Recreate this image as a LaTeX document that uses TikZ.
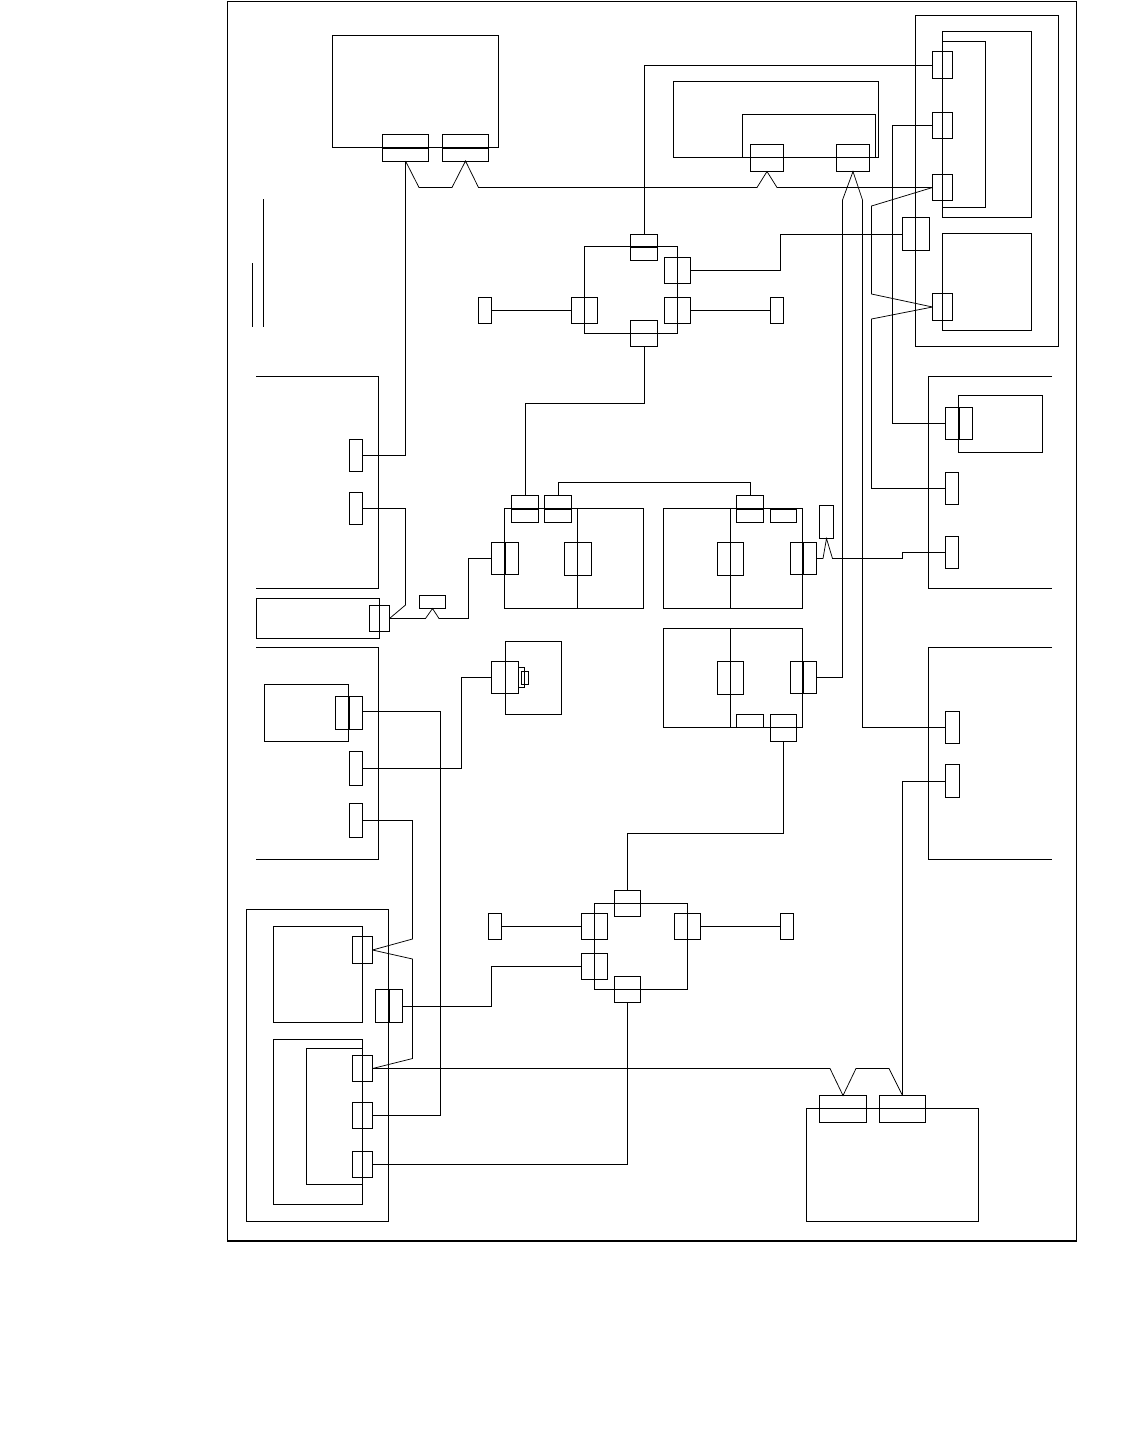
\documentclass[tikz,border=0pt]{standalone}
\usetikzlibrary{calc}
\tikzset{
  bx/.style={draw=black,line width=0.75pt,inner sep=0pt,outer sep=0pt,fill=none},
  wire/.style={draw=black,line width=0.75pt,line join=miter},
  splitbar/.style={draw=black,line width=1.5pt},
  framebar/.style={draw=black,line width=1.5pt}
}
\newcommand\bx[5]{%
  \pgfmathsetmacro\bxw{#4-#2}\pgfmathsetmacro\bxh{#5-#3}%
  \pgfmathsetmacro\bxx{(#2+#4)/2}\pgfmathsetmacro\bxy{(#3+#5)/2}%
  \node[bx,minimum width=\bxw pt,minimum height=\bxh pt] (#1) at (\bxx,\bxy) {};}
\newcommand\myhbar[1]{\draw[splitbar] (#1.west)--(#1.east);}
\newcommand\myvbar[1]{\draw[splitbar] (#1.north)--(#1.south);}
\begin{document}
\begin{tikzpicture}[x=1pt,y=-1pt]
\useasboundingbox (0,0) rectangle (1134,1443);
% frame
\bx{frame}{227.5}{1}{1076.5}{1241}
\draw[framebar] (frame.north east)--(frame.south east)--(frame.south west);
% top-left unit
\bx{tla}{332.5}{35.5}{498.5}{147.5}
\bx{tlp}{382.5}{134.5}{428.5}{161}
\bx{tlq}{442.5}{134.5}{488.5}{161}
\myhbar{tlp}\myhbar{tlq}
% top centre
\bx{tc}{673.5}{81.5}{878.5}{157.5}
\bx{tci}{742.5}{114.5}{875.5}{157.5}
\bx{tcp}{750.5}{144.5}{783.5}{171.5}
\bx{tcq}{836.5}{144.5}{869.5}{171.5}
% top-right group
\bx{rg}{915.5}{15.5}{1058.5}{346.5}
\bx{rga}{942.5}{31.5}{1031.5}{217.5}
\bx{rgai}{942.5}{41.5}{985.5}{207.5}
\bx{rgb}{942.5}{233.5}{1031.5}{330.5}
\bx{rp1}{932.5}{51.5}{952.5}{78.5}
\bx{rp2}{932.5}{112.5}{952.5}{138.5}
\bx{rp3}{932.5}{174.5}{952.5}{200.5}
\bx{rp4}{932.5}{293.5}{952.5}{320.5}
\bx{rp5}{902.5}{217.5}{929.5}{250.5}
% hub 1
\bx{ha}{584.5}{246.5}{677.5}{333.5}
\bx{hat}{630.5}{234.5}{657.5}{260.5}
\bx{hab}{630.5}{320.5}{657.5}{346.5}
\bx{har}{664.5}{257.5}{690.5}{283.5}
\bx{has}{664.5}{297.5}{690.5}{323.5}
\bx{hal}{571.5}{297.5}{597.5}{323.5}
\bx{stl}{478.5}{297.5}{491.5}{323.5}
\bx{str}{770.5}{297.5}{783.5}{323.5}
\myhbar{hat}
% B1
\bx{ba}{504.5}{508.5}{643.5}{608.5}
\draw[wire] (577.5,508.5)--(577.5,608.5);
\bx{bap}{511.5}{495.5}{538.5}{522.5}
\bx{baq}{544.5}{495.5}{571.5}{522.5}
\bx{bal}{491.5}{542.5}{518.5}{574.5}
\bx{bam}{564.5}{542.5}{591.5}{575.5}
\myhbar{bap}\myhbar{baq}\myvbar{bal}
% B2
\bx{bb}{663.5}{508.5}{802.5}{608.5}
\draw[wire] (730.5,508.5)--(730.5,608.5);
\bx{bbp}{736.5}{495.5}{763.5}{522.5}
\bx{bbq}{770.5}{509}{796.5}{522.5}
\bx{bbl}{717.5}{542.5}{743.5}{575.5}
\bx{bbr}{790.5}{542.5}{816.5}{574.5}
\bx{bbt}{819.5}{505.5}{833.5}{538.5}
\myhbar{bbp}\myvbar{bbr}
% B3
\bx{bc}{663.5}{628.5}{802.5}{727.5}
\draw[wire] (730.5,628.5)--(730.5,727.5);
\bx{bcl}{717.5}{661.5}{743.5}{694.5}
\bx{bcr}{790.5}{661.5}{816.5}{693.5}
\bx{bcp}{736.5}{714.5}{763.5}{727.5}
\bx{bcq}{770.5}{714.5}{796.5}{741.5}
\myvbar{bcr}
% left bars
\draw[wire] (263.5,199)--(263.5,326.5);
\draw[wire] (252.5,263)--(252.5,326.5);
% left open groups
\draw[wire] (256,376.5)--(378.5,376.5)--(378.5,588.5)--(256,588.5);
\bx{lp1}{349.5}{439.5}{362.5}{471.5}
\bx{lp2}{349.5}{492.5}{362.5}{524.5}
\bx{lb}{256.5}{598.5}{379.5}{638.5}
\bx{lbp}{369.5}{605.5}{389.5}{631.5}
\bx{lbt}{419.5}{595.5}{445.5}{608.5}
\draw[wire] (256,647.5)--(378.5,647.5)--(378.5,859.5)--(256,859.5);
\bx{lm}{264.5}{684.5}{348.5}{741.5}
\bx{lm1}{335.5}{696.5}{362.5}{729.5}
\myvbar{lm1}
\bx{lm2}{349.5}{751.5}{362.5}{785.5}
\bx{lm3}{349.5}{803.5}{362.5}{837.5}
% small unit
\bx{su}{505.5}{641.5}{561.5}{714.5}
\bx{sup}{491.5}{661.5}{518.5}{693.5}
\bx{sus}{518.5}{667.5}{524.5}{687.5}
\bx{suk}{521.5}{671.5}{528.5}{684.5}
% right open groups
\draw[wire] (1052,376.5)--(928.5,376.5)--(928.5,588.5)--(1052,588.5);
\bx{rb}{958.5}{395.5}{1042.5}{452.5}
\bx{ra1}{945.5}{407.5}{972.5}{439.5}
\myvbar{ra1}
\bx{ra2}{945.5}{472.5}{958.5}{504.5}
\bx{ra3}{945.5}{536.5}{958.5}{568.5}
\draw[wire] (1052,647.5)--(928.5,647.5)--(928.5,859.5)--(1052,859.5);
\bx{rc1}{945.5}{711.5}{959.5}{743.5}
\bx{rc2}{945.5}{764.5}{959.5}{797.5}
% hub 2
\bx{hb}{594.5}{903.5}{687.5}{989.5}
\bx{hbt}{614.5}{890.5}{640.5}{916.5}
\bx{hbb}{614.5}{976.5}{640.5}{1002.5}
\bx{hbl}{581.5}{913.5}{607.5}{939.5}
\bx{hbm}{581.5}{953.5}{607.5}{979.5}
\bx{hbr}{674.5}{913.5}{700.5}{939.5}
\bx{sbl}{488.5}{913.5}{501.5}{939.5}
\bx{sbr}{780.5}{913.5}{793.5}{939.5}
% lower-left group
\bx{lg}{246.5}{909.5}{388.5}{1221.5}
\bx{lga}{273.5}{926.5}{362.5}{1022.5}
\bx{lgb}{273.5}{1039.5}{362.5}{1204.5}
\bx{lgbi}{306.5}{1048.5}{362.5}{1184.5}
\bx{lp3}{352.5}{936.5}{372.5}{963.5}
\bx{lp4}{375.5}{989.5}{402.5}{1022.5}
\myvbar{lp4}
\bx{lp5}{352.5}{1055.5}{372.5}{1081.5}
\bx{lp6}{352.5}{1102.5}{372.5}{1128.5}
\bx{lp7}{352.5}{1151.5}{372.5}{1177.5}
% bottom-right unit
\bx{br}{806.5}{1108.5}{978.5}{1221.5}
\bx{brp}{819.5}{1095.5}{866.5}{1122.5}
\bx{brq}{879.5}{1095.5}{925.5}{1122.5}
% connectors
\draw[wire] (tlp.south)--(tlp.south |- lp1.east)--(lp1.east);
\draw[wire] (tlp.south)--(419,187.5)--(452,187.5)--(tlq.south)--(478.5,187.5)--(757,187.5)--(tcp.south)--(777,187.5)--(rp3.west);
\draw[wire] (rp1.west)--(hat.north |- rp1.west)--(hat.north);
\draw[wire] (rp2.west)--(892.5,125.5)--(892.5,423.5)--(ra1.west);
\draw[wire] (rp3.west)--(871.5,206)--(871.5,294)--(rp4.west);
\draw[wire] (rp4.west)--(871.5,319)--(871.5,488.5)--(ra2.west);
\draw[wire] (rp5.west)--(780.5,234)--(780.5,270.5)--(har.east);
\draw[wire] (hal.west)--(stl.east);
\draw[wire] (has.east)--(str.west);
\draw[wire] (hab.south)--(644,403.5)--(525,403.5)--(bap.north);
\draw[wire] (baq.north)--(558,482.5)--(750,482.5)--(bbp.north);
\draw[wire] (bbr.east)--(823,558.5)--(826.5,538.5)--(832.5,558.5)--(902.5,558.5)--(902.5,552.5)--(ra3.west);
\draw[wire] (bcr.east)--(842.5,677.5)--(842.5,200)--(tcq.south)--(862.5,200)--(862.5,727.5)--(rc1.west);
\draw[wire] (bcq.south)--(783.5,833.5)--(627.5,833.5)--(hbt.north);
\draw[wire] (lp2.east)--(405.5,508.5)--(405.5,605)--(lbp.east);
\draw[wire] (lbp.east)--(425.5,618.5)--(lbt.south)--(439,618.5)--(468.5,618.5)--(468.5,558.5)--(bal.west);
\draw[wire] ([yshift=1.5pt]lm1.east)--(440.5,711.5)--(440.5,1115.5)--(lp6.east);
\draw[wire] (lm2.east)--(461.5,768.5)--(461.5,677.5)--(sup.west);
\draw[wire] (lm3.east)--(412.5,820.5)--(412.5,939)--(lp3.east);
\draw[wire] (lp3.east)--(412.5,959)--(412.5,1058.5)--(lp5.east);
\draw[wire] (lp4.east)--(491.5,1006)--(491.5,966.5)--(hbm.west);
\draw[wire] (lp5.east)--(830,1068.5)--(brp.north)--(856,1068.5)--(889,1068.5)--(brq.north);
\draw[wire] (brq.north)--(brq.north |- rc2.west)--(rc2.west);
\draw[wire] (lp7.east)--(hbb.south |- lp7.east)--(hbb.south);
\draw[wire] (sbl.east)--(hbl.west);
\draw[wire] (hbr.east)--(sbr.west);
\end{tikzpicture}
\end{document}
